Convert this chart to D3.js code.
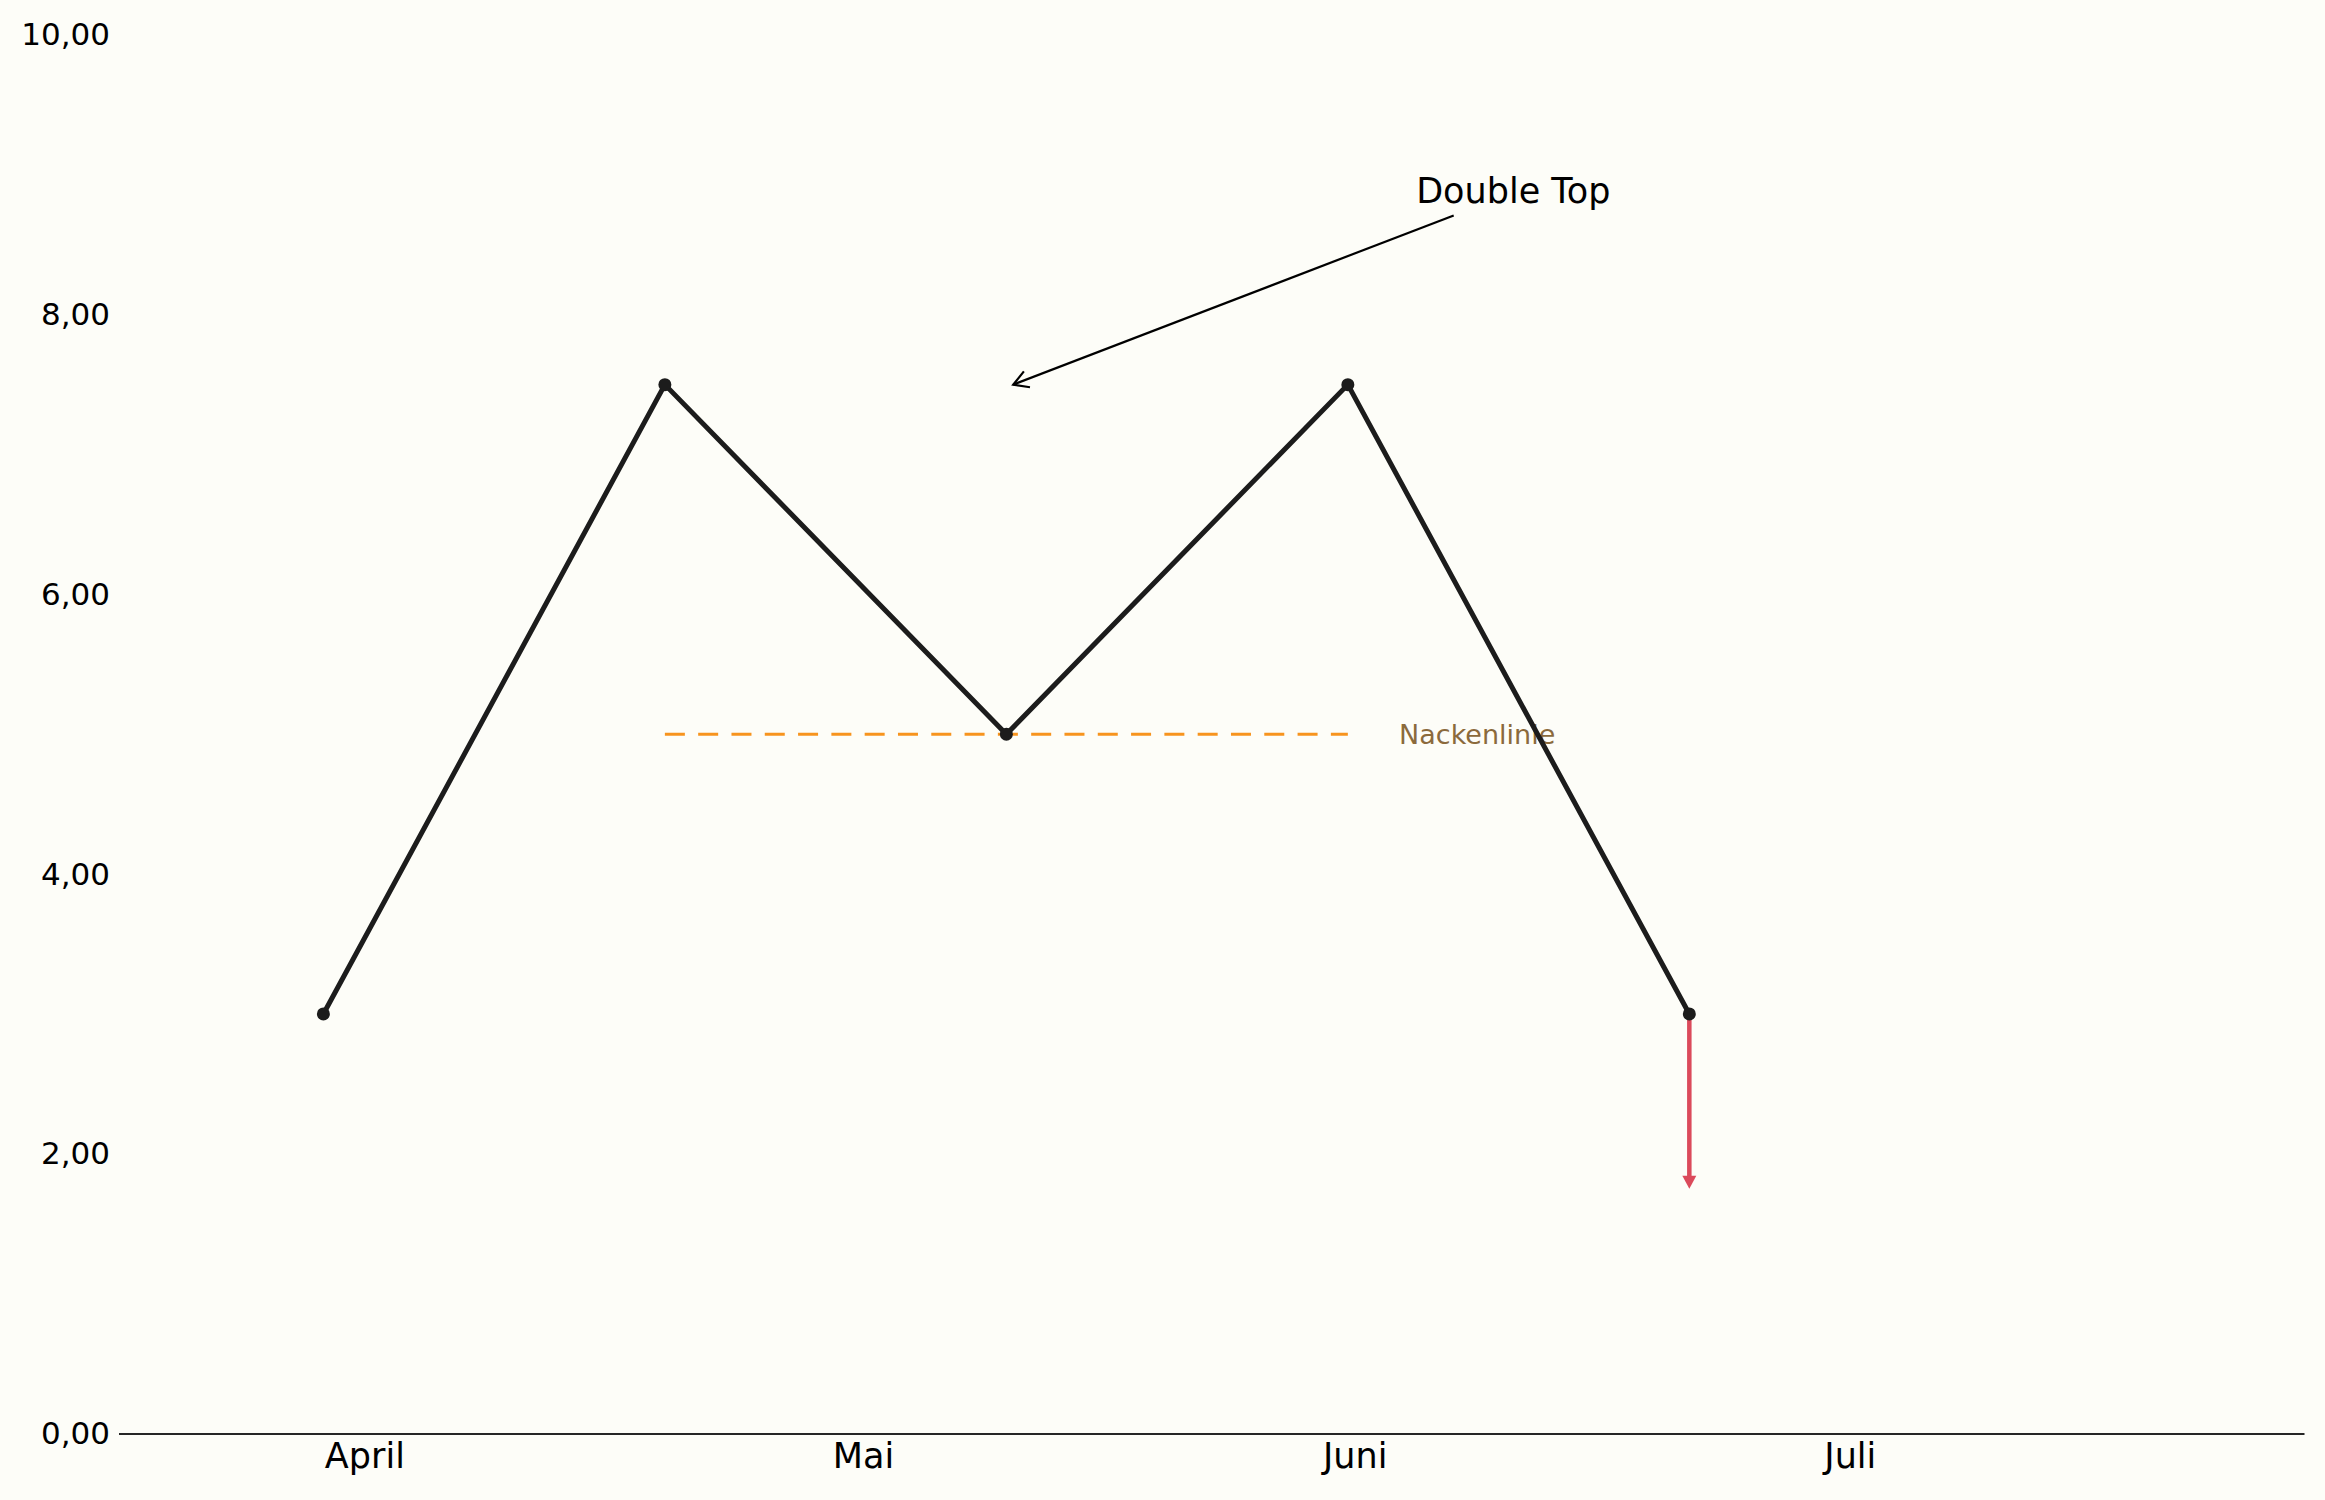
<!DOCTYPE html>
<html>
<head>
<meta charset="utf-8">
<script src="https://cdn.jsdelivr.net/npm/d3@7"></script>
<style>
  body { margin: 0; background: #fdfdf8; }
  svg { display: block; font-family: "DejaVu Sans", sans-serif; }
</style>
</head>
<body>
<div class="chart"></div>
<script>
// price path of the pattern, one point per step
const steps  = [0, 1, 2, 3, 4]
const prices = [3, 7.5, 5, 7.5, 3]

// month labels sit between the steps
const monthLabels = ['April', 'Mai', 'Juni', 'Juli']
const monthPos    = [0.12, 1.58, 3.02, 4.47]

const yTicks = [0, 2, 4, 6, 8, 10]

// neckline and breakout target
const neckFrom  = 1
const neckTo    = 3
const neckLevel = 5
const neckLabel = 'Nackenlinie'
const targetLevel = 1.75

// "Double Top" note: text anchor and arrow tip
const noteText = 'Double Top'
const noteXY   = [3.2, 8.8]
const noteTail = [3.31, 8.71]
const noteTip  = [2.02, 7.5]

const W = 2325, H = 1500
const margin = {top: 35, right: 21, bottom: 66.5, left: 118.5}

const x = d3.scaleLinear().domain([-0.6, 5.8]).range([margin.left, W - margin.right])
const y = d3.scaleLinear().domain([0, 10]).range([H - margin.bottom, margin.top])

const de = d3.formatLocale({decimal: ',', thousands: '.', grouping: [3], currency: ['', ' €']})
const fmt = de.format('.2f')

let svg = d3.select('.chart')
  .append('svg')
    .attr('width', W)
    .attr('height', H)
    .style('background', '#fdfdf8')

// y labels only, no axis line
let yAxis = svg.append('g')
    .attr('transform', 'translate(' + margin.left + ',0)')
    .call(d3.axisLeft(y).tickValues(yTicks).tickFormat(fmt).tickSize(0).tickPadding(8.5))
yAxis.select('.domain').remove()
yAxis.selectAll('text')
    .attr('font-size', 31)
    .attr('font-family', '"DejaVu Sans", sans-serif')
    .attr('fill', '#000')

let xAxis = svg.append('g')
    .attr('transform', 'translate(0,' + y(0) + ')')
    .call(d3.axisBottom(x).tickValues(monthPos)
      .tickFormat((d, i) => monthLabels[i]).tickSize(0).tickSizeOuter(0).tickPadding(10))
xAxis.select('.domain')
    .attr('stroke', '#262626')
    .attr('stroke-width', 2)
xAxis.selectAll('text')
    .attr('font-size', 35)
    .attr('font-family', '"DejaVu Sans", sans-serif')
    .attr('fill', '#000')

// neckline
svg.append('line')
    .attr('x1', x(neckFrom))
    .attr('x2', x(neckTo))
    .attr('y1', y(neckLevel))
    .attr('y2', y(neckLevel))
    .attr('stroke', '#f7941e')
    .attr('stroke-width', 3)
    .attr('stroke-dasharray', '20,13.3')

svg.append('text')
    .attr('x', x(neckTo + 0.15))
    .attr('y', y(neckLevel))
    .attr('dominant-baseline', 'central')
    .attr('font-size', 27)
    .attr('fill', '#8b6a3c')
    .text(neckLabel)

// breakout arrow
const last = steps.length - 1
const ax = x(steps[last])
const tipY = y(targetLevel)
svg.append('line')
    .attr('x1', ax)
    .attr('x2', ax)
    .attr('y1', y(prices[last]))
    .attr('y2', tipY - 8)
    .attr('stroke', '#db4a5b')
    .attr('stroke-width', 4.5)
svg.append('path')
    .attr('d', 'M' + (ax - 7) + ',' + (tipY - 13) + 'L' + (ax + 7) + ',' + (tipY - 13) + 'L' + ax + ',' + tipY + 'Z')
    .attr('fill', '#db4a5b')

// price line
let pts = steps.map((s, i) => [s, prices[i]])
svg.append('path')
    .datum(pts)
    .attr('d', d3.line().x(d => x(d[0])).y(d => y(d[1])))
    .attr('fill', 'none')
    .attr('stroke', '#1c1c1c')
    .attr('stroke-width', 5)
    .attr('stroke-linejoin', 'round')

svg.selectAll('circle.pt')
  .data(pts)
  .enter()
  .append('circle')
    .attr('class', 'pt')
    .attr('cx', d => x(d[0]))
    .attr('cy', d => y(d[1]))
    .attr('r', 6.5)
    .attr('fill', '#1c1c1c')

// annotation
svg.append('text')
    .attr('x', x(noteXY[0]))
    .attr('y', y(noteXY[1]))
    .attr('font-size', 35)
    .attr('fill', '#000')
    .text(noteText)

const tx = x(noteTip[0]), ty = y(noteTip[1])
const sx = x(noteTail[0]), sy = y(noteTail[1])
const ang = Math.atan2(sy - ty, sx - tx)
const hl = 17, ha = Math.PI / 6
svg.append('line')
    .attr('x1', sx).attr('y1', sy)
    .attr('x2', tx).attr('y2', ty)
    .attr('stroke', '#000')
    .attr('stroke-width', 2.2)
svg.append('path')
    .attr('d', 'M' + (tx + hl * Math.cos(ang + ha)) + ',' + (ty + hl * Math.sin(ang + ha)) +
      'L' + tx + ',' + ty +
      'L' + (tx + hl * Math.cos(ang - ha)) + ',' + (ty + hl * Math.sin(ang - ha)))
    .attr('fill', 'none')
    .attr('stroke', '#000')
    .attr('stroke-width', 2.2)
</script>
</body>
</html>
